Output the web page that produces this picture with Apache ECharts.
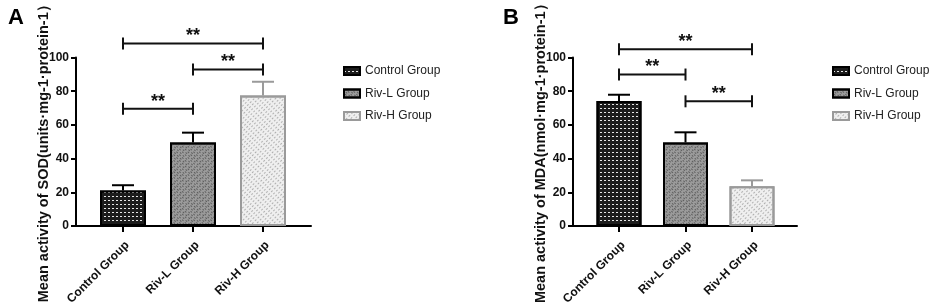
<!DOCTYPE html>
<html>
<head>
<meta charset="utf-8">
<script src="https://cdn.jsdelivr.net/npm/echarts@6/dist/echarts.min.js"></script>
<style>
  html, body {margin: 0; padding: 0; background: #fff;}
  #main {width: 941px; height: 307px;}
</style>
</head>
<body>
<div id="main"></div>
<script>
// groups and readings (mean + SD) taken off the figure
const groups = ['Control Group', 'Riv-L Group', 'Riv-H Group'];
const sodMean = [21.0, 49.5, 77.5];
const sodSd = [3.2, 5.9, 8.1];
const mdaMean = [74.2, 49.6, 23.6];
const mdaSd = [3.7, 6.0, 3.5];
const yTicks = [0, 20, 40, 60, 80, 100];
// significance brackets: [from group, to group, height in axis units]
const sodPairs = [[0, 2, 108.3], [1, 2, 92.9], [0, 1, 69.6]];
const mdaPairs = [[0, 2, 104.9], [0, 1, 89.9], [1, 2, 74.0]];

const FONT = 'Liberation Sans, Arial, sans-serif';
const fills = ['#1c1c1c', '#9c9c9c', '#efefef'];
const borders = ['#000', '#000', '#9a9a9a'];
const decals = [
  {symbol: 'rect', color: '#e6e6e6', symbolSize: 1, dashArrayX: [2, 2], dashArrayY: [1, 3]},
  {symbol: 'rect', color: '#5e5e5e', symbolSize: 1, dashArrayX: [[2, 2], [1, 2, 1, 0]], dashArrayY: [1, 1], rotation: Math.PI / 4},
  {symbol: 'rect', color: '#b0b0b0', symbolSize: 1, dashArrayX: [2, 2], dashArrayY: [1, 2], rotation: -Math.PI / 4}
];

const chart = echarts.init(document.getElementById('main'));

function lineAxis(grid) {
  return {
    gridIndex: grid, type: 'value', min: 0, max: 1,
    axisLine: {show: true, lineStyle: {color: '#000', width: 2}},
    axisTick: {show: false}, axisLabel: {show: false}, splitLine: {show: false}
  };
}

function catAxis(grid) {
  return {
    gridIndex: grid, type: 'category', data: groups,
    axisLine: {show: false},
    axisTick: {show: true, alignWithLabel: true, length: 6, lineStyle: {color: '#000', width: 2}},
    axisLabel: {rotate: 45, margin: 13, verticalAlign: 'top', color: '#111', fontSize: 12, fontWeight: 'bold', fontFamily: FONT, interval: 0}
  };
}

function valAxis(grid, name, offset) {
  return {
    gridIndex: grid, type: 'value', min: yTicks[0], max: yTicks[yTicks.length - 1], interval: 20,
    offset: offset,
    name: name, nameLocation: 'middle', nameGap: 25, nameMoveOverlap: false,
    nameTextStyle: {fontSize: 14.5, fontWeight: 'bold', color: '#111', fontFamily: FONT, padding: [0, 16, 0, 0]},
    axisLine: {show: true, lineStyle: {color: '#000', width: 2}},
    axisTick: {show: true, length: 5, lineStyle: {color: '#000', width: 2}},
    axisLabel: {margin: 7, color: '#111', fontSize: 12, fontWeight: 'bold', fontFamily: FONT},
    splitLine: {show: false}
  };
}

function barSeries(means, xi, yi, width) {
  return groups.map((g, k) => ({
    type: 'bar', name: g, xAxisIndex: xi, yAxisIndex: yi,
    barWidth: width, barGap: '-100%',
    data: means.map((v, i) => (i === k ? v : '-')),
    itemStyle: {color: fills[k], borderColor: borders[k], borderWidth: 2, decal: decals[k]},
    emphasis: {disabled: true}
  }));
}

function errorSeries(means, sds, xi, yi) {
  return {
    type: 'custom', xAxisIndex: xi, yAxisIndex: yi, z: 5, silent: true, clip: false,
    data: means.map((m, i) => [i, m, sds[i]]),
    renderItem: (params, api) => {
      const i = api.value(0), m = api.value(1), s = api.value(2);
      const base = api.coord([i, m]);
      const top = api.coord([i, m + s]);
      const st = {stroke: borders[i], lineWidth: 2};
      return {type: 'group', children: [
        {type: 'line', shape: {x1: top[0], y1: base[1], x2: top[0], y2: top[1]}, style: st},
        {type: 'line', shape: {x1: top[0] - 11, y1: top[1], x2: top[0] + 11, y2: top[1]}, style: st}
      ]};
    }
  };
}

function bracketSeries(pairs, xi, yi) {
  return {
    type: 'custom', xAxisIndex: xi, yAxisIndex: yi, z: 5, silent: true, clip: false,
    data: pairs,
    renderItem: (params, api) => {
      const a = api.coord([api.value(0), api.value(2)]);
      const b = api.coord([api.value(1), api.value(2)]);
      const st = {stroke: '#111', lineWidth: 2};
      return {type: 'group', children: [
        {type: 'line', shape: {x1: a[0], y1: a[1], x2: b[0], y2: b[1]}, style: st},
        {type: 'line', shape: {x1: a[0], y1: a[1] - 6, x2: a[0], y2: a[1] + 6}, style: st},
        {type: 'line', shape: {x1: b[0], y1: b[1] - 6, x2: b[0], y2: b[1] + 6}, style: st},
        {type: 'text', x: (a[0] + b[0]) / 2, y: a[1] - 7,
          style: {text: '**', fill: '#111', font: 'bold 18px ' + FONT,
            align: 'center', verticalAlign: 'middle', textAlign: 'center', textVerticalAlign: 'middle'}}
      ]};
    }
  };
}

function legendAt(left) {
  return {
    data: groups, orient: 'vertical', left: left, top: 64, padding: 0,
    icon: 'rect', itemWidth: 16, itemHeight: 8, itemGap: 8.5, selectedMode: false,
    textStyle: {fontSize: 12, color: '#222', fontFamily: FONT, lineHeight: 14}
  };
}

function gridAt(left, width) {
  return {left: left, top: 57.5, width: width, height: 168.5, outerBoundsMode: 'none', containLabel: false};
}

chart.setOption({
  animation: false,
  textStyle: {fontFamily: FONT},
  title: [
    {text: 'A', left: 3, top: 2, textStyle: {fontSize: 22, fontWeight: 'bold', color: '#000'}},
    {text: 'B', left: 498, top: 2, textStyle: {fontSize: 22, fontWeight: 'bold', color: '#000'}}
  ],
  legend: [legendAt(343), legendAt(832)],
  grid: [gridAt(76, 235), gridAt(88, 210), gridAt(573, 224), gridAt(585.75, 199.5)],
  xAxis: [lineAxis(0), catAxis(1), lineAxis(2), catAxis(3)],
  yAxis: [
    {gridIndex: 0, type: 'value', show: false},
    valAxis(1, 'Mean activity of SOD(units·mg-1·protein-1）', 12),
    {gridIndex: 2, type: 'value', show: false},
    valAxis(3, 'Mean activity of MDA(nmol·mg-1·protein-1）', 12.75)
  ],
  series: [
    ...barSeries(sodMean, 1, 1, 46),
    errorSeries(sodMean, sodSd, 1, 1),
    bracketSeries(sodPairs, 1, 1),
    ...barSeries(mdaMean, 3, 3, 45),
    errorSeries(mdaMean, mdaSd, 3, 3),
    bracketSeries(mdaPairs, 3, 3)
  ]
});
</script>
</body>
</html>
